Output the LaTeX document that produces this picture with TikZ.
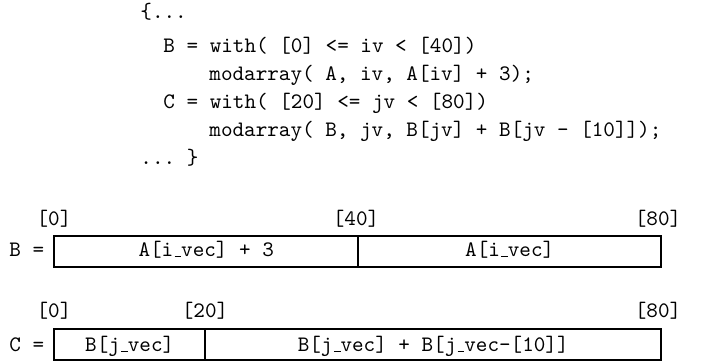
\documentclass[tikz,border=0pt]{standalone}
\usepackage{fontspec}
\frenchspacing
\newcommand\ttus{\leavevmode\kern.06em\vbox{\hrule width.3em}}
\tikzset{
  code/.style={anchor=base west, inner sep=0pt, font=\ttfamily},
  lbl/.style={anchor=base, inner sep=0pt, font=\ttfamily},
  cell/.style={draw, line width=1.1pt, inner sep=0pt},
}
\begin{document}
\begin{tikzpicture}[x=0.453pt, y=-0.453pt]
\useasboundingbox (0,0) rectangle (703,361);
% code
\node[code] (l1) at (140,19) {\{...};
\node[code] (l2) at (163,53) {B = with( [0] <= iv < [40])};
\node[code] (l3) at (209,81) {modarray( A, iv, A[iv] + 3);};
\node[code] (l4) at (163,109) {C = with( [20] <= jv < [80])};
\node[code] (l5) at (209,137) {modarray( B, jv, B[jv] + B[jv - [10]]);};
\node[code] (l6) at (140,165) {... \}};
% array B
\node[code] (bn) at (9,257) {B =};
\node[cell, minimum width=304*0.453pt, minimum height=31*0.453pt, anchor=north west] (b1) at (53,235) {};
\node[cell, minimum width=303*0.453pt, minimum height=31*0.453pt, anchor=north west] (b2) at (357,235) {};
\node[lbl] (bt1) at (b1.center |- 0,257) {A[i\ttus vec] + 3};
\node[lbl] (bt2) at (b2.center |- 0,257) {A[i\ttus vec]};
\node[lbl] (b0) at (54,226) {[0]};
\node[lbl] (b40) at (356,226) {[40]};
\node[lbl] (b80) at (658,226) {[80]};
% array C
\node[code] (cn) at (9,352) {C =};
\node[cell, minimum width=151*0.453pt, minimum height=31*0.453pt, anchor=north west] (c1) at (53,328) {};
\node[cell, minimum width=456*0.453pt, minimum height=31*0.453pt, anchor=north west] (c2) at (204,328) {};
\node[lbl] (ct1) at (c1.center |- 0,352) {B[j\ttus vec]};
\node[lbl] (ct2) at (c2.center |- 0,352) {B[j\ttus vec] + B[j\ttus vec-[10]]};
\node[lbl] (c0) at (54,318) {[0]};
\node[lbl] (c20) at (205,318) {[20]};
\node[lbl] (c80) at (658,318) {[80]};
\end{tikzpicture}
\end{document}
